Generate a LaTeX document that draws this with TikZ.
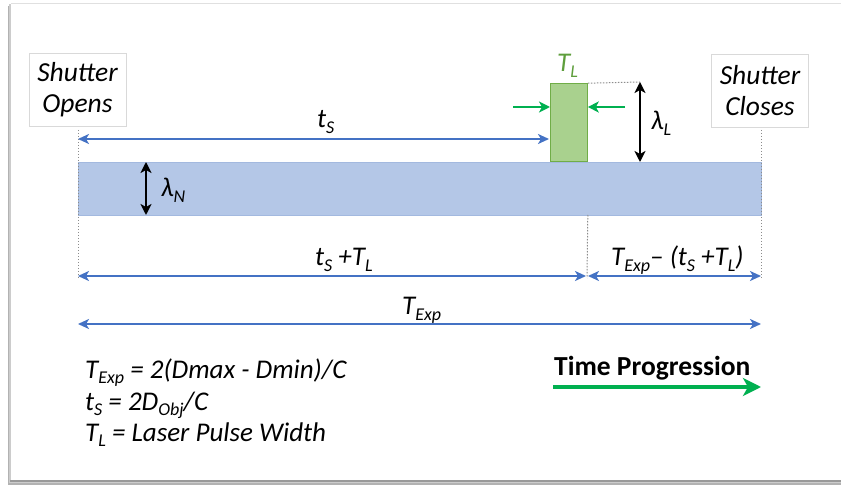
\documentclass[tikz,border=0pt]{standalone}
\usepackage{fontspec}
\setmainfont{Carlito}
\usetikzlibrary{arrows.meta}
\definecolor{bandfill}{HTML}{B4C7E7}
\definecolor{banddraw}{HTML}{A3B9DF}
\definecolor{bluearr}{HTML}{4472C4}
\definecolor{pulsefill}{HTML}{A9D18E}
\definecolor{pulsedraw}{HTML}{70AD47}
\definecolor{greenarr}{HTML}{00B050}
\definecolor{tlgreen}{HTML}{5E9E3C}
\definecolor{dotgray}{HTML}{8C8C8C}
\newcommand\sbs[1]{\raisebox{-0.2em}{\fontsize{18}{18}\selectfont #1}}
\tikzset{
  txt/.style={font=\fontsize{27}{31}\selectfont\itshape, inner sep=0pt, anchor=base west},
  shutterbox/.style={draw=black!15, fill=white, line width=0.8pt, minimum width=97pt, minimum height=73pt, align=center, inner sep=0pt, font=\fontsize{27.5}{31.5}\selectfont\itshape},
  bluedim/.style={draw=bluearr, line width=2pt, {Stealth[length=11pt,width=10pt,inset=3pt]}-{Stealth[length=11pt,width=10pt,inset=3pt]}},
  blackdim/.style={draw=black, line width=2pt, {Stealth[length=11pt,width=11pt,inset=3pt]}-{Stealth[length=11pt,width=11pt,inset=3pt]}},
  greenptr/.style={draw=greenarr, line width=2pt, -{Stealth[length=11pt,width=11pt,inset=3pt]}},
  guide/.style={draw=dotgray, line width=1pt, dash pattern=on 1.5pt off 1.5pt},
}
\begin{document}
\begin{tikzpicture}[x=1pt,y=-1pt]
\useasboundingbox (0,0) rectangle (841,486);
% frame with shadow
\fill[black!30] (8,6) rectangle (850,485);
\fill[black!20] (9,4) rectangle (850,483);
\fill[black!40] (10,480) rectangle (850,482);
\fill[white] (11,3) rectangle (850,479.5);
\draw[black!12, line width=0.8pt] (11,3) -- (850,3);
% band and pulse
\node[draw=banddraw, fill=bandfill, line width=0.8pt, minimum width=683pt, minimum height=53pt, inner sep=0pt, anchor=north west] (band) at (78,162) {};
\node[draw=pulsedraw, fill=pulsefill, line width=0.8pt, minimum width=37pt, minimum height=78pt, inner sep=0pt, anchor=south west] (pulse) at (550,162) {};
% shutter boxes
\node[shutterbox] (open) at (77.5,89.5) {Shutter\\Opens};
\node[shutterbox] (close) at (760,90.5) {Shutter\\Closes};
% coordinates
\coordinate (lgTop) at (78,130);
\coordinate (lgBot) at (78,278);
\coordinate (rgTop) at (761,130);
\coordinate (rgBot) at (761,278);
\coordinate (mgBot) at (587,278);
\coordinate (tsL) at (78,139);
\coordinate (tsR) at (549,139);
\coordinate (tlA) at (78,276);
\coordinate (tlB) at (586,276);
\coordinate (trA) at (588,276);
\coordinate (trB) at (761,276);
\coordinate (teA) at (78,324);
\coordinate (teB) at (761,324);
\coordinate (laT) at (640,82);
\coordinate (laB) at (640,162);
\coordinate (lnT) at (146,162);
\coordinate (lnB) at (146,215);
\coordinate (gL) at (513,107);
\coordinate (gR) at (625,107);
\coordinate (tpA) at (553,387);
\coordinate (tpB) at (761,387);
% guides
\draw[guide] (lgTop) -- (lgBot);
\draw[guide] (rgTop) -- (rgBot);
\draw[guide] (pulse.south east) ++(0,53) -- (mgBot);
\draw[guide] (pulse.north east) -- (laT);
% dimension arrows
\draw[bluedim] (tsL) -- (tsR);
\draw[bluedim] (tlA) -- (tlB);
\draw[bluedim] (trA) -- (trB);
\draw[bluedim] (teA) -- (teB);
\draw[blackdim] (laT) -- (laB);
\draw[blackdim] (lnT) -- (lnB);
\draw[greenptr] (gL) -- (pulse.west |- gL);
\draw[greenptr] (gR) -- (pulse.east |- gR);
\draw[draw=greenarr, line width=4pt, -{Stealth[length=18pt,width=18pt,inset=5pt]}] (tpA) -- (tpB);
% labels
\node[txt] (lts) at (317,128) {t\sbs{S}};
\node[txt, text=tlgreen] (ltl) at (557,72) {T\sbs{L}};
\node[txt] (llamL) at (651,130) {λ\sbs{L}};
\node[txt] (llamN) at (161,197) {λ\sbs{N}};
\node[txt] (ltstl) at (315,266) {t\sbs{S} +T\sbs{L}};
\node[txt] (lrest) at (611,266) {T\sbs{Exp}– (t\sbs{S} +T\sbs{L})};
\node[txt] (ltexp) at (402,315) {T\sbs{Exp}};
\node[txt] (f1) at (85,378) {T\sbs{Exp} = 2(Dmax - Dmin)/C};
\node[txt] (f2) at (85,410) {t\sbs{S} = 2D\sbs{Obj}/C};
\node[txt] (f3) at (85,441) {T\sbs{L} = Laser Pulse Width};
\node[txt, font=\fontsize{27.5}{31}\selectfont\bfseries] (ltp) at (554,375) {Time Progression};
\end{tikzpicture}
\end{document}
